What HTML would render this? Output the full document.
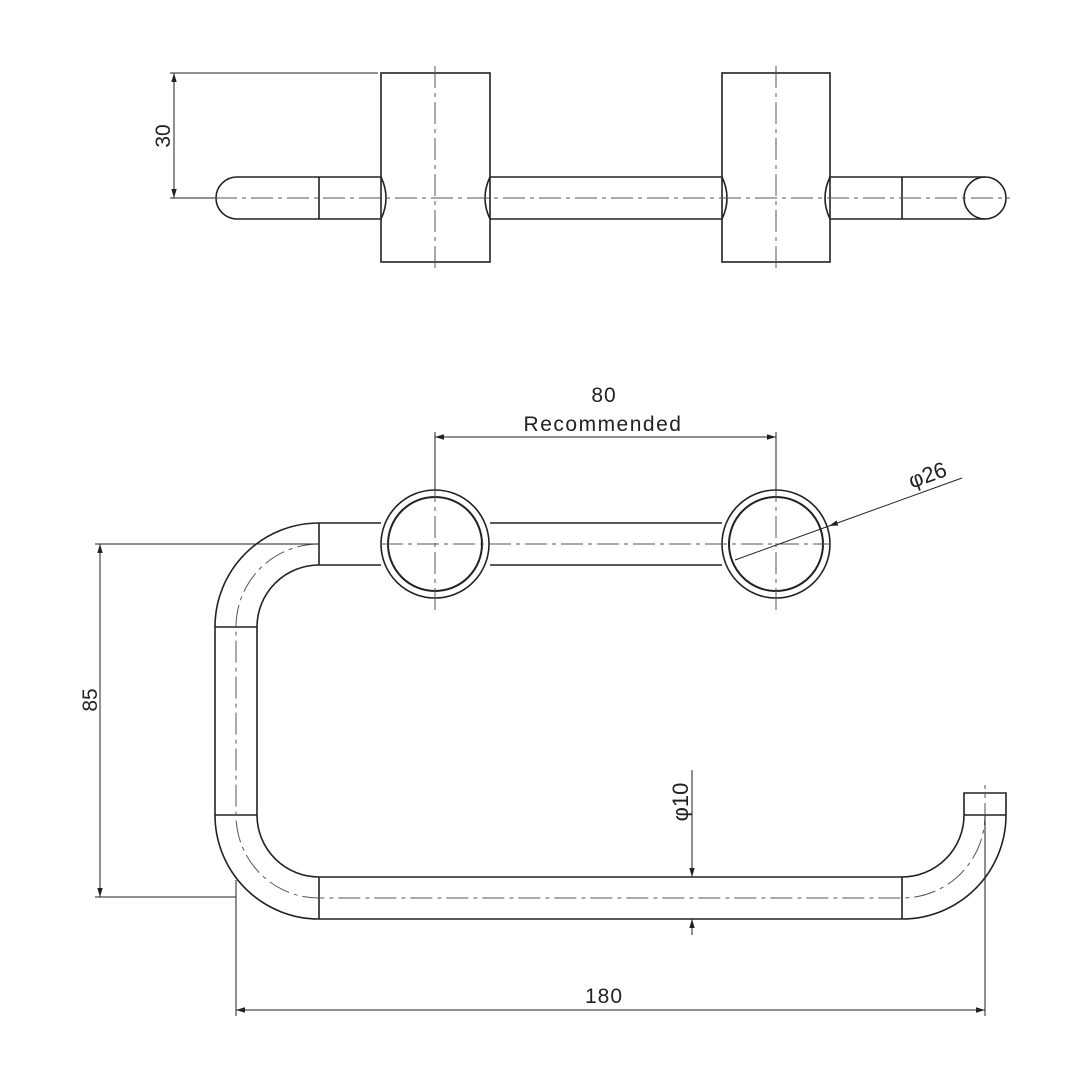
<!DOCTYPE html>
<html><head><style>html,body{margin:0;padding:0;background:#fff}</style></head><body>
<svg width="1080" height="1080" viewBox="0 0 1080 1080" xmlns="http://www.w3.org/2000/svg" font-family="Liberation Sans, sans-serif">
<defs>
<marker id="a" viewBox="0 0 10 10" refX="10" refY="5" markerWidth="9" markerHeight="9" orient="auto-start-reverse" markerUnits="userSpaceOnUse"><path d="M0,2 L10,5 L0,8 z" fill="#222"/></marker>
</defs>
<g fill="none" stroke="#222" stroke-width="1.6">
<rect x="381" y="73" width="109" height="189"/>
<rect x="722" y="73" width="108" height="189"/>
<path d="M381,177 H319 M381,219 H319 M319,177 V219 M319,177 H237 A21,21 0 0 0 237,219 H319"/>
<path d="M490,177 H722 M490,219 H722"/>
<path d="M830,177 H985 M830,219 H985 M902,177 V219"/>
<ellipse cx="985" cy="198" rx="21" ry="21"/>
<path d="M381,177 Q391,198 381,219 M490,177 Q480,198 490,219 M722,177 Q732,198 722,219 M830,177 Q820,198 830,219"/>
</g>
<g fill="none" stroke="#555" stroke-width="1" stroke-dasharray="22,5,4,5">
<path d="M435,66 V272 M776,66 V272 M215,198 H1010"/>
</g>
<g fill="none" stroke="#222" stroke-width="1">
<path d="M170,73 H378 M170,198 H215"/>
<path d="M174,73 V198" marker-start="url(#a)" marker-end="url(#a)"/>
</g>
<text x="0" y="0" font-size="21" fill="#222" transform="translate(170,136) rotate(-90)" text-anchor="middle">30</text>

<g fill="none" stroke="#222" stroke-width="1.6">
<path d="M381,523 H319 A104,104 0 0 0 215,627 V815 A104,104 0 0 0 319,919 H902 A104,104 0 0 0 1006,815 V793 H964 V815 A62,62 0 0 1 902,877 H319 A62,62 0 0 1 257,815 V627 A62,62 0 0 1 319,565 H381"/>
<path d="M319,523 V565 M215,627 H257 M215,815 H257 M319,877 V919 M902,877 V919 M964,815 H1006"/>
<path d="M490,523 H722 M490,565 H722"/>
<circle cx="435" cy="544" r="54"/>
<circle cx="435" cy="544" r="47" stroke-width="2"/>
<circle cx="776" cy="544" r="54"/>
<circle cx="776" cy="544" r="47" stroke-width="2"/>
</g>
<g fill="none" stroke="#555" stroke-width="1" stroke-dasharray="22,5,4,5">
<path d="M319,544 A83,83 0 0 0 236,627 V815 A83,83 0 0 0 319,898 H902 A83,83 0 0 0 985,815 V785"/>
<path d="M381,544 H830"/>
<path d="M435,480 V610 M776,480 V610"/>
</g>
<g fill="none" stroke="#222" stroke-width="1">
<path d="M95,544 H319 M95,897 H236"/>
<path d="M100,544 V897" marker-start="url(#a)" marker-end="url(#a)"/>
<path d="M236,880 V1016 M985,815 V1016"/>
<path d="M236,1010 H985" marker-start="url(#a)" marker-end="url(#a)"/>
<path d="M435,432 V490 M776,432 V490"/>
<path d="M435,437 H776" marker-start="url(#a)" marker-end="url(#a)"/>
<path d="M962,478 L829,526" marker-end="url(#a)"/>
<path d="M829,526 L735,560"/>
<path d="M692,770 V877" marker-end="url(#a)"/>
<path d="M692,935 V919" marker-end="url(#a)"/>
</g>
<text font-size="21" fill="#222" text-anchor="middle" transform="translate(97,700) rotate(-90)">85</text>
<text x="604" y="1003" font-size="21" fill="#222" text-anchor="middle" letter-spacing="1">180</text>
<text x="604" y="402" font-size="21" fill="#222" text-anchor="middle" letter-spacing="1">80</text>
<text x="603" y="431" font-size="21" fill="#222" text-anchor="middle" letter-spacing="1.5">Recommended</text>
<text font-size="22" fill="#222" text-anchor="middle" transform="translate(930,482) rotate(-20)">φ26</text>
<text font-size="22" fill="#222" text-anchor="middle" transform="translate(688,802) rotate(-90)">φ10</text>
</svg>
</body></html>
